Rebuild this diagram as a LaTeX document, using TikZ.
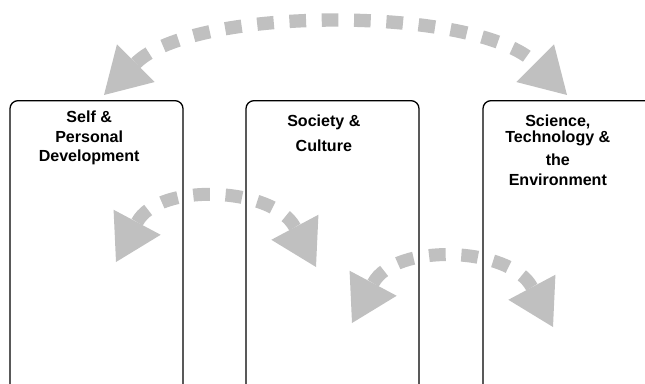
\documentclass[tikz,border=0pt]{standalone}
\usepackage{fontspec}
\setmainfont{Liberation Sans}
\usetikzlibrary{arrows.meta,positioning}
\definecolor{arrowgray}{RGB}{192,192,192}

\begin{document}
\begin{tikzpicture}[x=0.03cm,y=0.03cm,
				area/.style={draw,line width=1.1pt,rounded corners=0.24cm,
									minimum width=5.19cm,minimum height=9.3cm,inner sep=0pt},
				areatext/.style={font=\bfseries\fontsize{13.7}{16.6}\selectfont,
									align=center,inner sep=0pt},
				swing/.style={draw=arrowgray,line width=0.4cm,
									dash pattern=on 0.5cm off 0.47cm,
									{Triangle[length=1.35cm,width=1.6cm,line width=0pt]}-{Triangle[length=1.35cm,width=1.6cm,line width=0pt]}}]
\useasboundingbox (0,0) rectangle (645,383);

	% arrow ends
	\coordinate (top_l) at (104,288);
	\coordinate (top_r) at (567,288);
	\coordinate (mid_l) at (116,121);
	\coordinate (mid_r) at (316,116);
	\coordinate (low_l) at (352,60);
	\coordinate (low_r) at (553,56);

  \draw[swing] (top_l) to[out=45,in=135,looseness=0.7] (top_r);
  \draw[swing,line width=0.39cm] (mid_l) to[out=62,in=118,looseness=1.16] (mid_r);
  \draw[swing,line width=0.39cm] (low_l) to[out=62,in=118,looseness=1.16] (low_r);

	\node[area,anchor=north] (self) at (96.5,283) {};
	\node[area,anchor=north] (society) at (332.5,283) {};
	\node[area,anchor=north] (science) at (569.5,283) {};

	\node[areatext] (self_t) [below=0.33cm of self.north,xshift=-0.22cm]
		{Self \&\\Personal\\Development};
	\node[areatext,font=\bfseries\fontsize{13.7}{21.3}\selectfont] (society_t)
		[below=0.45cm of society.north,xshift=-0.26cm] {Society \&\\Culture};
	\node[areatext] (science_t) [below=0.45cm of science.north,xshift=-0.35cm]
		{Science,\\[-3pt]Technology \&\\[3pt]the\\Environment};
\end{tikzpicture}
\end{document}
